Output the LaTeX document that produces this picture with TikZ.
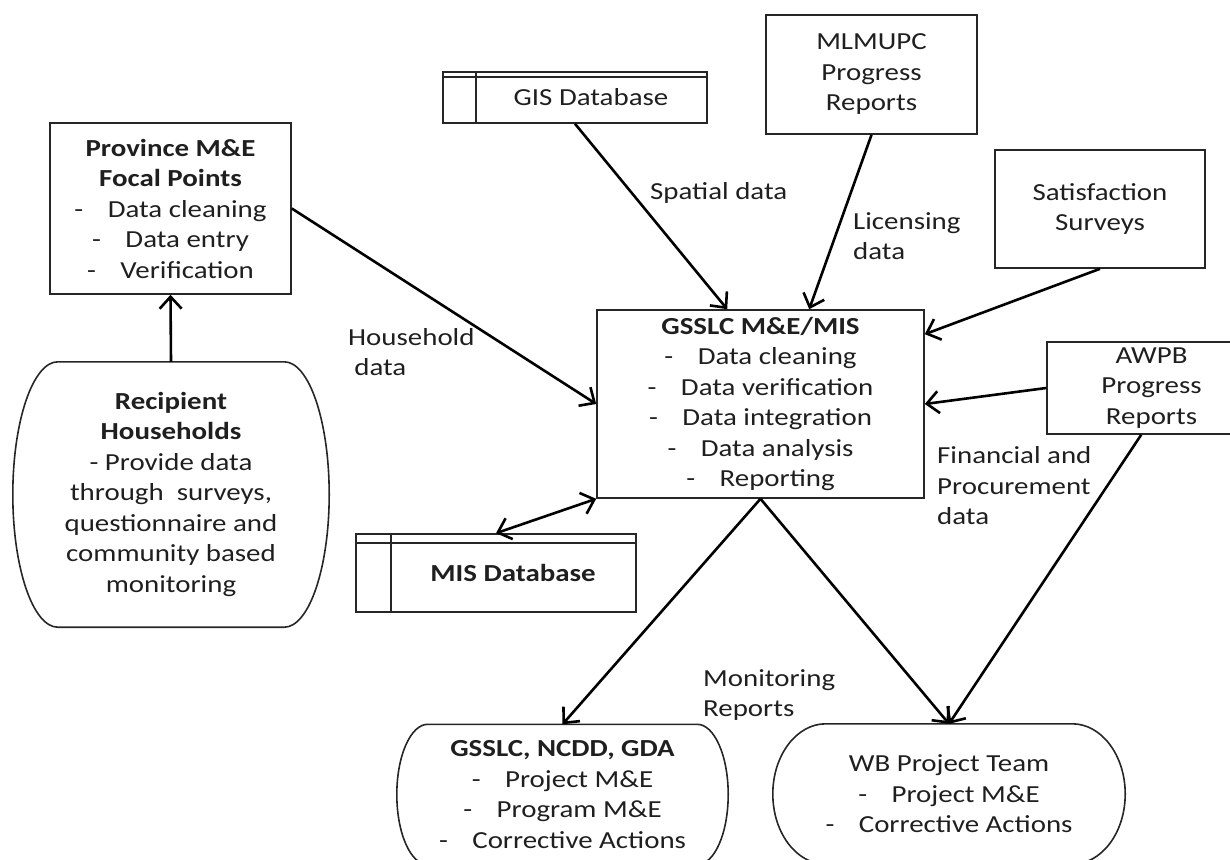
\documentclass[tikz,border=0pt]{standalone}
\usepackage{fontspec}
\setmainfont{Carlito}[FakeStretch=1.18]
\usetikzlibrary{arrows.meta,calc}
\newcommand\dashitem{-\hspace{1em}}
\newcommand\drawterm[2]{%
  \draw[boxline] let \p1=(#1.north west), \p2=(#1.south east), \n1={(\y1-\y2)/2} in
    (\x1+#2pt,\y1) -- (\x2-#2pt,\y1)
    arc[start angle=90,end angle=-90,x radius=#2pt,y radius=\n1]
    -- (\x1+#2pt,\y2)
    arc[start angle=270,end angle=90,x radius=#2pt,y radius=\n1] -- cycle;}
\begin{document}
\begin{tikzpicture}[x=1pt,y=-1pt,
  every node/.style={font=\fontsize{24.5}{30.5}\selectfont, text=black!88, inner sep=0pt},
  boxline/.style={line width=1.6pt, draw=black!85},
  box/.style={boxline, rectangle, align=center},
  term/.style={rectangle, align=center},
  lbl/.style={anchor=west, align=left},
  arr/.style={line width=2.6pt, -{Straight Barb[length=12pt,width=22pt]}},
  darr/.style={line width=2.6pt, {Straight Barb[length=12pt,width=22pt]}-{Straight Barb[length=12pt,width=22pt]}}]
\useasboundingbox (0,0) rectangle (1230,859);

% boxes
\node[box, minimum width=264pt, minimum height=51pt] (gis) at (575,97.5)
  {\hspace*{32pt}\raisebox{-5pt}{GIS Database}};
\draw[boxline] ($(gis.north west)+(0,6)$) -- ($(gis.north east)+(0,6)$);
\draw[boxline] ($(gis.north west)+(34,0)$) -- ($(gis.south west)+(34,0)$);

\node[box, minimum width=211pt, minimum height=119pt] (mlm) at (871.5,74.5)
  {MLMUPC\\Progress\\Reports};
\node[box, minimum width=210pt, minimum height=118pt] (sat) at (1100,209)
  {Satisfaction\\Surveys};
\node[box, minimum width=241pt, minimum height=171pt] (prov) at (170.5,208.5)
  {\textbf{Province M\&E}\\\textbf{Focal Points}\\\dashitem Data cleaning\\\dashitem Data entry\\\dashitem Verification};
\node[term, minimum width=316pt, minimum height=265pt] (rec) at (171,494.5)
  {\textbf{Recipient}\\\textbf{Households}\\- Provide data\\through\ \ surveys,\\questionnaire and\\community based\\monitoring};
\drawterm{rec}{45}
\node[box, minimum width=327pt, minimum height=188pt] (gss) at (760.5,404)
  {\textbf{GSSLC M\&E/MIS}\\\dashitem Data cleaning\\\dashitem Data verification\\\dashitem Data integration\\\dashitem Data analysis\\\dashitem Reporting};
\node[box, minimum width=209pt, minimum height=92pt] (awpb) at (1151.5,388)
  {AWPB\\Progress\\Reports};
\node[box, minimum width=280pt, minimum height=78pt] (mis) at (496,573)
  {\hspace*{34pt}\raisebox{-10pt}{\textbf{MIS Database}}};
\draw[boxline] ($(mis.north west)+(0,10)$) -- ($(mis.north east)+(0,10)$);
\draw[boxline] ($(mis.north west)+(36,0)$) -- ($(mis.south west)+(36,0)$);
\node[term, minimum width=331pt, minimum height=140pt] (gnc) at (562.5,794.5)
  {\textbf{GSSLC, NCDD, GDA}\\\dashitem Project M\&E\\\dashitem Program M\&E\\\dashitem Corrective Actions};
\drawterm{gnc}{31}
\node[term, minimum width=352pt, minimum height=140pt] (wb) at (949,794)
  {WB Project Team\\\dashitem Project M\&E\\\dashitem Corrective Actions};
\drawterm{wb}{53}

% labels
\node[lbl] (lspatial) at (650,193) {Spatial data};
\node[lbl] (llic) at (853,236) {Licensing\\data};
\node[lbl] (lhh) at (348,352) {Household\\\hspace*{0.25em}data};
\node[lbl] (lfin) at (937,486) {Financial and\\Procurement\\data};
\node[lbl] (lmon) at (703,695) {Monitoring\\Reports};

% connectors
\draw[arr] (gis.south) -- ($(gss.north west)+(131,0)$);
\draw[arr] (mlm.south) -- ($(gss.north west)+(213,0)$);
\draw[arr] (sat.south) -- ($(gss.north east)+(0,25)$);
\draw[arr] (awpb.west) -- (gss.east);
\draw[arr] (prov.east) -- (gss.west);
\draw[arr] (rec.north) -- (prov.south);
\draw[darr] (mis.north) -- (gss.south west);
\draw[arr] (gss.south) -- (gnc.north);
\draw[arr] (gss.south) -- (wb.north);
\draw[arr] ($(awpb.south west)+(95,0)$) -- (wb.north);
\end{tikzpicture}
\end{document}
